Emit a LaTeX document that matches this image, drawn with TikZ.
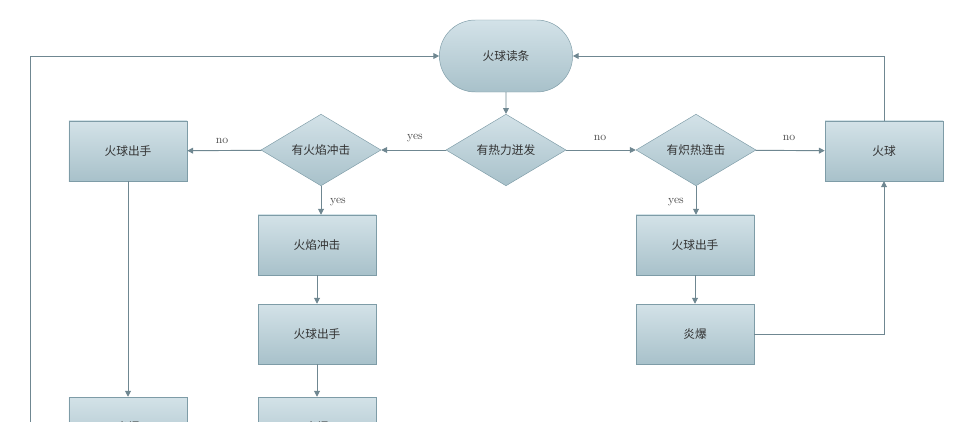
\documentclass[tikz,border=0pt]{standalone}
\usepackage{fontspec}
\newfontfamily\cjk{Noto Sans CJK SC}
\usetikzlibrary{shapes.geometric,shapes.misc,arrows.meta}
\definecolor{rand}{HTML}{7E9CA7}
\definecolor{linie}{HTML}{6F8791}
\definecolor{oben}{HTML}{D3E2E8}
\definecolor{unten}{HTML}{A8C1CA}
\tikzset{
  kasten/.style={draw=rand, top color=oben, bottom color=unten, minimum width=3.54cm, minimum height=1.8cm, font=\cjk\normalsize, text=black!80},
  raute/.style={draw=rand, top color=oben, bottom color=unten, diamond, aspect=1.7, minimum width=3.6cm, minimum height=2.15cm, inner sep=0pt, font=\cjk\normalsize, text=black!80},
  start/.style={draw=rand, top color=oben, bottom color=unten, rounded rectangle, minimum width=4.23cm, minimum height=2.16cm, font=\cjk\normalsize, text=black!80},
  pfeil/.style={draw=linie, thick, -{Triangle[length=5pt,width=5pt]}},
  lab/.style={font=\normalsize, text=black!70}
}
\begin{document}
\begin{tikzpicture}[x=0.03cm,y=-0.03cm]
\useasboundingbox (0,0) rectangle (972,422);

%Knoten
\node[start] (lesen) at (506,56) {火球读条};
\node[raute] (hitze) at (506,150) {有热力迸发};
\node[raute] (flamme) at (321,150) {有火焰冲击};
\node[raute] (glut) at (696,150) {有炽热连击};
\node[kasten] (wurfL) at (128,151) {火球出手};
\node[kasten] (ball) at (884,151) {火球};
\node[kasten] (stoss) at (317,245) {火焰冲击};
\node[kasten] (wurfM) at (317,334) {火球出手};
\node[kasten] (explM) at (317,427) {炎爆};
\node[kasten] (explL) at (128,427) {炎爆};
\node[kasten] (wurfR) at (695,245) {火球出手};
\node[kasten] (explR) at (695,334) {炎爆};

%Verbindungen
\draw[pfeil] (lesen) -- (hitze);
\draw[pfeil] (hitze) -- (flamme);
\node[lab] at (415,138) {yes};
\draw[pfeil] (hitze) -- (glut);
\node[lab] at (600,138) {no};
\draw[pfeil] (flamme) -- (wurfL);
\node[lab] at (222,141) {no};
\draw[pfeil] (glut) -- (ball);
\node[lab] at (789,138) {no};
\draw[pfeil] (flamme) -- (flamme|-stoss.north);
\node[lab] at (338,202) {yes};
\draw[pfeil] (glut) -- (glut|-wurfR.north);
\node[lab] at (676,202) {yes};
\draw[pfeil] (stoss) -- (wurfM);
\draw[pfeil] (wurfM) -- (explM);
\draw[pfeil] (wurfL) -- (explL);
\draw[pfeil] (wurfR) -- (explR);
\draw[pfeil] (explR.east) -| (ball.south);

%Rueckfuehrung
\coordinate (untenL) at (30,430);
\draw[pfeil] (untenL) |- (lesen.west);
\draw[pfeil] (ball.north) |- (lesen.east);

\end{tikzpicture}
\end{document}
